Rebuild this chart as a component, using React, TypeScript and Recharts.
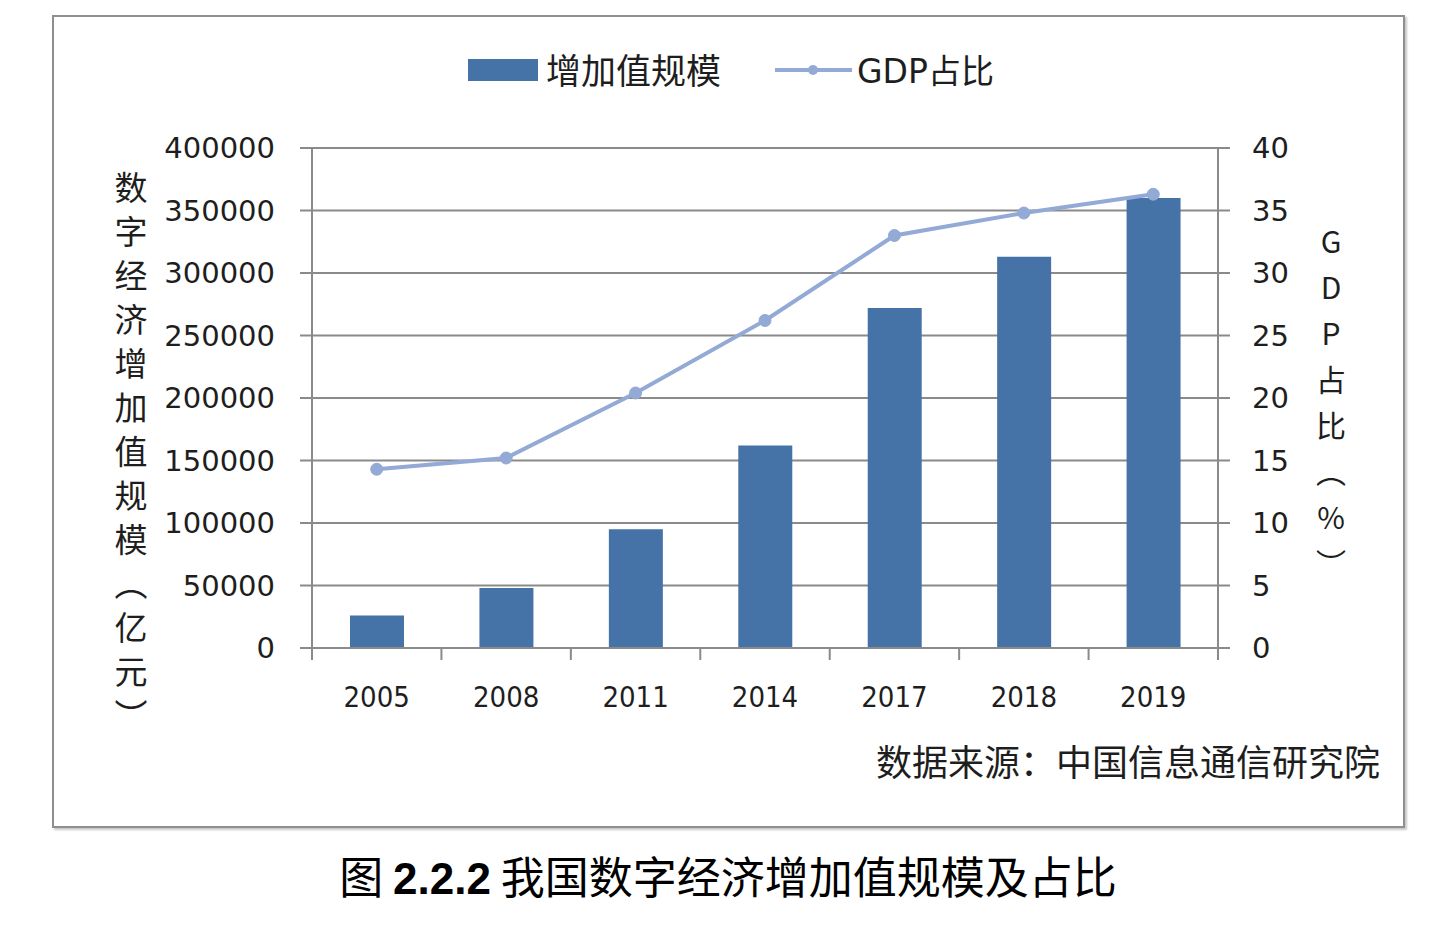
import React from 'react';
import {
  ComposedChart,
  Bar,
  Line,
  XAxis,
  YAxis,
  CartesianGrid,
} from 'recharts';

// Digital economy value added (100 million yuan) and its share of GDP (%)
const years = ['2005', '2008', '2011', '2014', '2017', '2018', '2019'];
const addedValue = [26000, 48000, 95000, 162000, 272000, 313000, 360000];
const gdpShare = [14.3, 15.2, 20.4, 26.2, 33.0, 34.8, 36.3];
const leftTicks = [0, 50000, 100000, 150000, 200000, 250000, 300000, 350000, 400000];
const rightTicks = [0, 5, 10, 15, 20, 25, 30, 35, 40];

const barName = '增加值规模';
const lineName = 'GDP占比';
const leftTitle = '数字经济增加值规模（亿元）';
const rightTitle = 'GDP占比（%）';
const sourceNote = '数据来源：中国信息通信研究院';

const data = years.map((year, i) => ({
  year,
  value: addedValue[i],
  share: gdpShare[i],
}));

const BAR_COLOR = '#4572a7';
const LINE_COLOR = '#93a9d6';
const AXIS_COLOR = '#8a8a8a';
const TEXT_COLOR = '#1e1e1e';
const NUM_FONT = '"DejaVu Sans", Verdana, sans-serif';
const CJK_FONT = '"Noto Sans CJK SC", "DejaVu Sans", sans-serif';

const PAGE_W = 1441;
const PAGE_H = 931;
const MARGIN = { top: 148, right: 123, bottom: 223, left: 162 };
const LEFT_AXIS_W = 150;
const RIGHT_AXIS_W = 100;
const X_AXIS_H = 60;
const PLOT_W = PAGE_W - MARGIN.left - LEFT_AXIS_W - MARGIN.right - RIGHT_AXIS_W;

// Category label with boundary tick marks between the year bands
const YearTick = (props: any) => {
  const { x, y, payload } = props;
  const index = typeof props.index === 'number' ? props.index : payload?.index ?? 0;
  const half =
    typeof payload?.offset === 'number' && payload.offset > 0
      ? payload.offset
      : PLOT_W / years.length / 2;
  return (
    <g>
      <line x1={x - half} x2={x - half} y1={y} y2={y + 12} stroke={AXIS_COLOR} strokeWidth={2} />
      {index === years.length - 1 && (
        <line x1={x + half} x2={x + half} y1={y} y2={y + 12} stroke={AXIS_COLOR} strokeWidth={2} />
      )}
      <text
        x={x}
        y={y + 49}
        textAnchor="middle"
        dominantBaseline="central"
        fontFamily='"DejaVu Sans Condensed", "DejaVu Sans", sans-serif'
        fontSize={29}
        fill={TEXT_COLOR}
      >
        {payload.value}
      </text>
    </g>
  );
};

export default function App() {
  return (
    <div
      style={{
        position: 'absolute',
        left: 0,
        top: 0,
        width: PAGE_W,
        height: PAGE_H,
        background: '#ffffff',
        overflow: 'hidden',
      }}
    >
      {/* frame around the chart */}
      <div
        style={{
          position: 'absolute',
          left: 52,
          top: 15,
          width: 1349,
          height: 809,
          border: '2px solid #8f8f8f',
          boxShadow: '2px 2px 2px rgba(0,0,0,0.22)',
        }}
      />

      {/* legend */}
      <div
        style={{
          position: 'absolute',
          left: 468,
          top: 59,
          width: 70,
          height: 22,
          background: BAR_COLOR,
        }}
      />
      <div
        style={{
          position: 'absolute',
          left: 546,
          top: 44,
          height: 50,
          lineHeight: '50px',
          fontFamily: CJK_FONT,
          fontSize: 35,
          color: TEXT_COLOR,
          whiteSpace: 'nowrap',
        }}
      >
        {barName}
      </div>
      <svg style={{ position: 'absolute', left: 770, top: 60 }} width={86} height={20}>
        <line x1={5} x2={82} y1={10} y2={10} stroke={LINE_COLOR} strokeWidth={4} />
        <circle cx={43} cy={10} r={5} fill={LINE_COLOR} />
      </svg>
      <div
        style={{
          position: 'absolute',
          left: 857,
          top: 44,
          height: 50,
          lineHeight: '50px',
          fontFamily: CJK_FONT,
          fontSize: 33,
          color: TEXT_COLOR,
          whiteSpace: 'nowrap',
        }}
      >
        <span style={{ fontFamily: NUM_FONT }}>GDP</span>占比
      </div>

      {/* axis titles */}
      <div
        style={{
          position: 'absolute',
          left: 114,
          top: 171,
          writingMode: 'vertical-rl',
          fontFamily: CJK_FONT,
          fontSize: 33,
          lineHeight: 1,
          letterSpacing: 11,
          color: TEXT_COLOR,
          whiteSpace: 'nowrap',
        }}
      >
        {leftTitle}
      </div>
      <div
        style={{
          position: 'absolute',
          left: 1316,
          top: 227,
          writingMode: 'vertical-rl',
          textOrientation: 'upright',
          fontFamily: CJK_FONT,
          fontSize: 30,
          lineHeight: 1,
          letterSpacing: 16,
          color: TEXT_COLOR,
          whiteSpace: 'nowrap',
        }}
      >
        {rightTitle}
      </div>

      {/* source note */}
      <div
        style={{
          position: 'absolute',
          right: PAGE_W - 1380,
          top: 735,
          height: 50,
          lineHeight: '50px',
          fontFamily: CJK_FONT,
          fontSize: 36,
          color: TEXT_COLOR,
          whiteSpace: 'nowrap',
        }}
      >
        {sourceNote}
      </div>

      {/* caption */}
      <div
        style={{
          position: 'absolute',
          left: 0,
          width: 1456,
          top: 847,
          height: 56,
          lineHeight: '56px',
          textAlign: 'center',
          fontFamily: CJK_FONT,
          fontSize: 44,
          color: '#000',
          whiteSpace: 'nowrap',
        }}
      >
        图 <span style={{ fontFamily: '"Liberation Sans", Arial, sans-serif', fontWeight: 700 }}>2.2.2</span> 我国数字经济增加值规模及占比
      </div>

      <div style={{ position: 'absolute', left: 0, top: 0 }}>
        <ComposedChart width={PAGE_W} height={PAGE_H} data={data} margin={MARGIN}>
          <CartesianGrid
            yAxisId="left"
            vertical={false}
            stroke={AXIS_COLOR}
            strokeWidth={2}
          />
          <XAxis
            dataKey="year"
            height={X_AXIS_H}
            tickLine={false}
            tickSize={0}
            tickMargin={0}
            axisLine={{ stroke: AXIS_COLOR, strokeWidth: 2 }}
            tick={<YearTick />}
            interval={0}
          />
          <YAxis
            yAxisId="left"
            orientation="left"
            width={LEFT_AXIS_W}
            domain={[0, 400000]}
            ticks={leftTicks}
            interval={0}
            tickSize={12}
            tickMargin={25}
            axisLine={{ stroke: AXIS_COLOR, strokeWidth: 2 }}
            tickLine={{ stroke: AXIS_COLOR, strokeWidth: 2 }}
            tick={{ fill: TEXT_COLOR, fontFamily: NUM_FONT, fontSize: 29 }}
          />
          <YAxis
            yAxisId="right"
            orientation="right"
            width={RIGHT_AXIS_W}
            domain={[0, 40]}
            ticks={rightTicks}
            interval={0}
            tickSize={12}
            tickMargin={22}
            axisLine={{ stroke: AXIS_COLOR, strokeWidth: 2 }}
            tickLine={{ stroke: AXIS_COLOR, strokeWidth: 2 }}
            tick={{ fill: TEXT_COLOR, fontFamily: NUM_FONT, fontSize: 29 }}
          />
          <Bar
            yAxisId="left"
            dataKey="value"
            name={barName}
            fill={BAR_COLOR}
            barSize={54}
            isAnimationActive={false}
          />
          <Line
            yAxisId="right"
            dataKey="share"
            name={lineName}
            type="linear"
            stroke={LINE_COLOR}
            strokeWidth={4}
            dot={{ r: 6, fill: LINE_COLOR, stroke: LINE_COLOR, strokeWidth: 1 }}
            activeDot={false}
            isAnimationActive={false}
          />
        </ComposedChart>
      </div>
    </div>
  );
}
